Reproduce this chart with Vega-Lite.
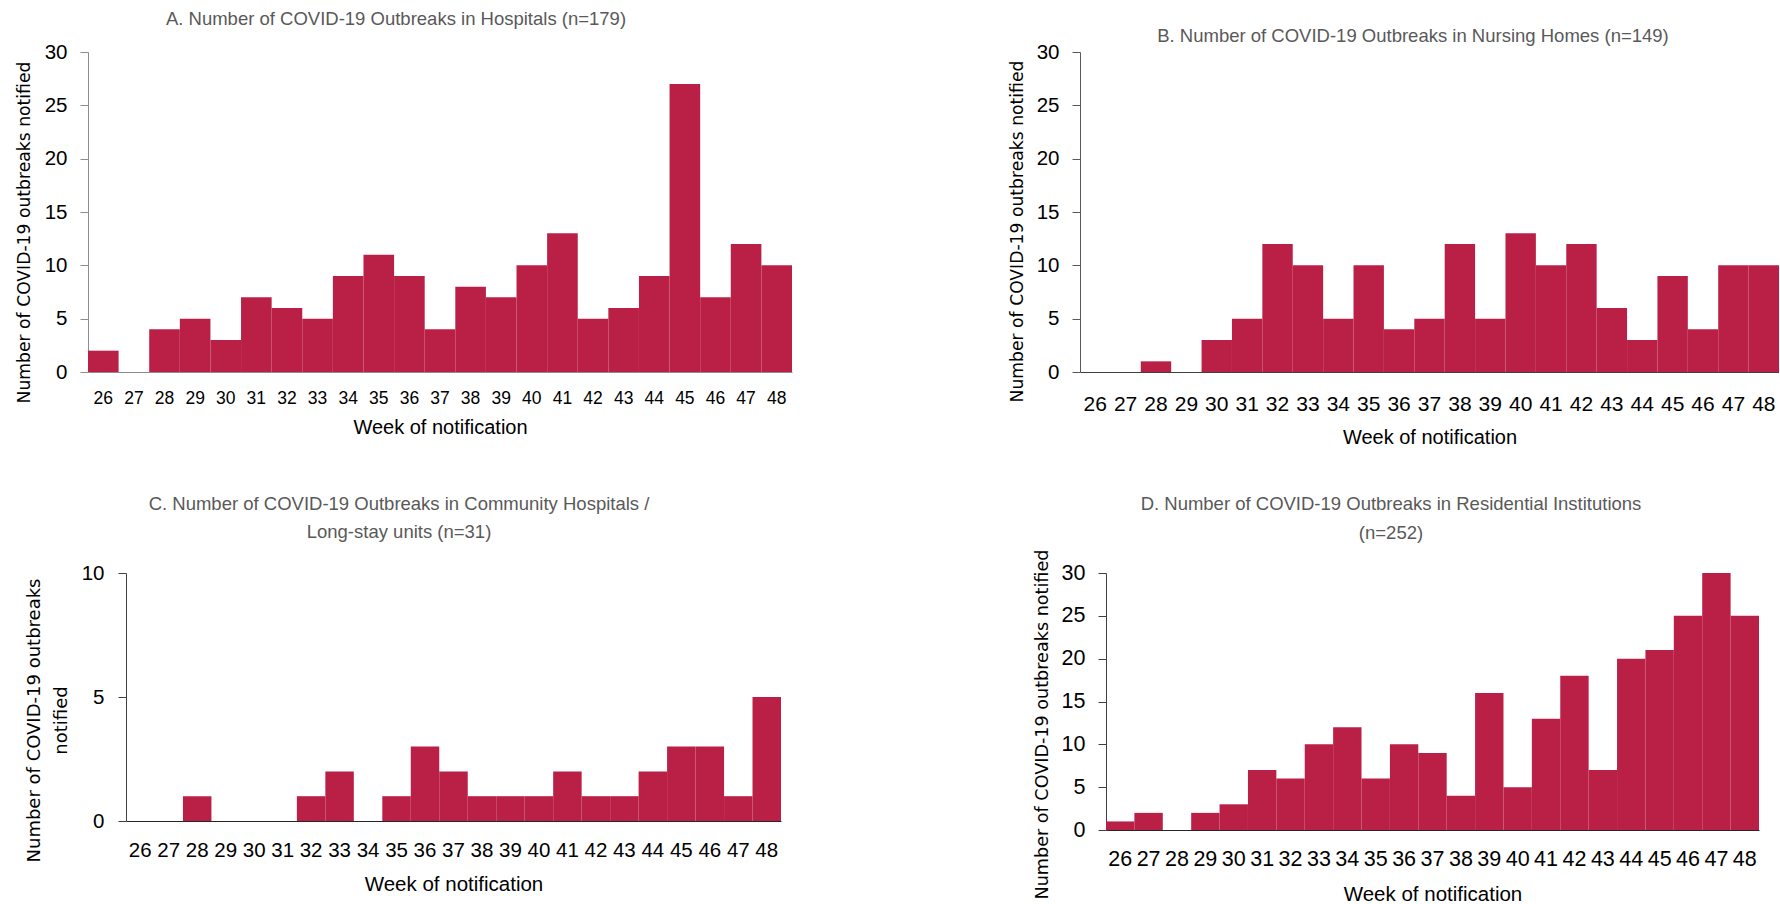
{
  "$schema": "https://vega.github.io/schema/vega-lite/v6.json",
  "background": "white",
  "padding": {"left": 14, "top": 9, "right": 0, "bottom": 0},
  "config": {
    "view": {"stroke": null},
    "font": "Liberation Sans",
    "axis": {"grid": false, "labelColor": "#000000", "titleColor": "#000000", "titleFontWeight": "normal", "labelFont": "Liberation Sans", "labelOverlap": false, "labelBound": false, "labelFlush": false},
    "title": {"font": "Liberation Sans", "fontSize": 18.5, "fontWeight": "normal", "color": "#595959", "anchor": "middle", "frame": "group", "baseline": "middle", "lineHeight": 28.6}
  },
  "datasets": {
    "A": [
      {"week": 26, "n": 2}, {"week": 27, "n": 0}, {"week": 28, "n": 4}, {"week": 29, "n": 5}, {"week": 30, "n": 3}, {"week": 31, "n": 7}, {"week": 32, "n": 6}, {"week": 33, "n": 5}, {"week": 34, "n": 9}, {"week": 35, "n": 11}, {"week": 36, "n": 9}, {"week": 37, "n": 4}, {"week": 38, "n": 8}, {"week": 39, "n": 7}, {"week": 40, "n": 10}, {"week": 41, "n": 13}, {"week": 42, "n": 5}, {"week": 43, "n": 6}, {"week": 44, "n": 9}, {"week": 45, "n": 27}, {"week": 46, "n": 7}, {"week": 47, "n": 12}, {"week": 48, "n": 10}
    ],
    "B": [
      {"week": 26, "n": 0}, {"week": 27, "n": 0}, {"week": 28, "n": 1}, {"week": 29, "n": 0}, {"week": 30, "n": 3}, {"week": 31, "n": 5}, {"week": 32, "n": 12}, {"week": 33, "n": 10}, {"week": 34, "n": 5}, {"week": 35, "n": 10}, {"week": 36, "n": 4}, {"week": 37, "n": 5}, {"week": 38, "n": 12}, {"week": 39, "n": 5}, {"week": 40, "n": 13}, {"week": 41, "n": 10}, {"week": 42, "n": 12}, {"week": 43, "n": 6}, {"week": 44, "n": 3}, {"week": 45, "n": 9}, {"week": 46, "n": 4}, {"week": 47, "n": 10}, {"week": 48, "n": 10}
    ],
    "C": [
      {"week": 26, "n": 0}, {"week": 27, "n": 0}, {"week": 28, "n": 1}, {"week": 29, "n": 0}, {"week": 30, "n": 0}, {"week": 31, "n": 0}, {"week": 32, "n": 1}, {"week": 33, "n": 2}, {"week": 34, "n": 0}, {"week": 35, "n": 1}, {"week": 36, "n": 3}, {"week": 37, "n": 2}, {"week": 38, "n": 1}, {"week": 39, "n": 1}, {"week": 40, "n": 1}, {"week": 41, "n": 2}, {"week": 42, "n": 1}, {"week": 43, "n": 1}, {"week": 44, "n": 2}, {"week": 45, "n": 3}, {"week": 46, "n": 3}, {"week": 47, "n": 1}, {"week": 48, "n": 5}
    ],
    "D": [
      {"week": 26, "n": 1}, {"week": 27, "n": 2}, {"week": 28, "n": 0}, {"week": 29, "n": 2}, {"week": 30, "n": 3}, {"week": 31, "n": 7}, {"week": 32, "n": 6}, {"week": 33, "n": 10}, {"week": 34, "n": 12}, {"week": 35, "n": 6}, {"week": 36, "n": 10}, {"week": 37, "n": 9}, {"week": 38, "n": 4}, {"week": 39, "n": 16}, {"week": 40, "n": 5}, {"week": 41, "n": 13}, {"week": 42, "n": 18}, {"week": 43, "n": 7}, {"week": 44, "n": 20}, {"week": 45, "n": 21}, {"week": 46, "n": 25}, {"week": 47, "n": 30}, {"week": 48, "n": 25}
    ],
    "spacer": [{"s": 0}]
  },
  "bounds": "flush",
  "spacing": 521,
  "vconcat": [
    {
      "bounds": "flush",
      "spacing": 288,
      "hconcat": [
        {
          "width": 704, "height": 320,
          "data": {"name": "A"},
          "title": {"text": "A. Number of COVID-19 Outbreaks in Hospitals (n=179)", "offset": 14, "dx": -44},
          "mark": {"type": "bar", "color": "#BA2046"},
          "encoding": {
            "x": {"field": "week", "type": "ordinal", "scale": {"paddingInner": 0, "paddingOuter": 0},
              "axis": {"title": "Week of notification", "labelAngle": 0, "ticks": false, "tickSize": 0, "labelPadding": 17.5, "labelFontSize": 17.5, "titleFontSize": 20, "titleFont": "Liberation Sans", "titleY": 45, "domainColor": "#8C8C8C"}},
            "y": {"field": "n", "type": "quantitative", "scale": {"domain": [0, 30]},
              "axis": {"values": [0, 5, 10, 15, 20, 25, 30], "tickSize": 8, "labelPadding": 13, "labelFontSize": 20.5, "domainColor": "#8C8C8C", "tickColor": "#8C8C8C",
                "title": "Number of COVID-19 outbreaks notified", "titleFont": "DejaVu Sans", "titleFontSize": 17.2, "titleAngle": -90, "titleBaseline": "middle", "titleAlign": "center", "titleX": -64, "titleY": 180}}
          }
        },
        {
          "width": 699, "height": 320,
          "data": {"name": "B"},
          "title": {"text": "B. Number of COVID-19 Outbreaks in Nursing Homes (n=149)", "offset": -3, "dx": -16.5},
          "mark": {"type": "bar", "color": "#BA2046"},
          "encoding": {
            "x": {"field": "week", "type": "ordinal", "scale": {"paddingInner": 0, "paddingOuter": 0},
              "axis": {"title": "Week of notification", "labelAngle": 0, "ticks": false, "tickSize": 0, "labelPadding": 21, "labelFontSize": 21, "titleFontSize": 20, "titleFont": "Liberation Sans", "titleY": 55, "domainColor": "#404040"}},
            "y": {"field": "n", "type": "quantitative", "scale": {"domain": [0, 30]},
              "axis": {"values": [0, 5, 10, 15, 20, 25, 30], "tickSize": 8, "labelPadding": 13, "labelFontSize": 20.5, "domainColor": "#595959", "tickColor": "#595959",
                "title": "Number of COVID-19 outbreaks notified", "titleFont": "DejaVu Sans", "titleFontSize": 17.2, "titleAngle": -90, "titleBaseline": "middle", "titleAlign": "center", "titleX": -63, "titleY": 179}}
          }
        }
      ]
    },
    {
      "bounds": "flush",
      "spacing": 37,
      "hconcat": [
        {
          "width": 1, "height": 1,
          "data": {"name": "spacer"},
          "mark": {"type": "point", "opacity": 0},
          "encoding": {}
        },
        {
          "bounds": "flush",
          "spacing": 325,
          "hconcat": [
            {
              "width": 655, "height": 248,
              "data": {"name": "C"},
              "title": {"text": ["C. Number of COVID-19 Outbreaks in Community Hospitals /", "Long-stay units (n=31)"], "offset": 21, "dx": -54.5},
              "mark": {"type": "bar", "color": "#BA2046"},
              "encoding": {
                "x": {"field": "week", "type": "ordinal", "scale": {"paddingInner": 0, "paddingOuter": 0},
                  "axis": {"title": "Week of notification", "labelAngle": 0, "ticks": false, "tickSize": 0, "labelPadding": 19, "labelFontSize": 20.5, "titleFontSize": 20.5, "titleFont": "Liberation Sans", "titleY": 53, "domainColor": "#262626"}},
                "y": {"field": "n", "type": "quantitative", "scale": {"domain": [0, 10]},
                  "axis": {"values": [0, 5, 10], "tickSize": 8, "labelPadding": 14, "labelFontSize": 20.5, "domainColor": "#404040", "tickColor": "#404040",
                    "title": ["Number of COVID-19 outbreaks", "notified"], "titleFont": "DejaVu Sans", "titleFontSize": 18, "titleLineHeight": 27, "titleAngle": -90, "titleBaseline": "middle", "titleAlign": "center", "titleX": -92, "titleY": 147}}
              }
            },
            {
              "width": 653, "height": 257,
              "data": {"name": "D"},
              "title": {"text": ["D. Number of COVID-19 Outbreaks in Residential Institutions", "(n=252)"], "offset": 7, "dx": -41.5},
              "mark": {"type": "bar", "color": "#BA2046"},
              "encoding": {
                "x": {"field": "week", "type": "ordinal", "scale": {"paddingInner": 0, "paddingOuter": 0},
                  "axis": {"title": "Week of notification", "labelAngle": 0, "ticks": false, "tickSize": 0, "labelPadding": 18, "labelFontSize": 21.5, "titleFontSize": 20.5, "titleFont": "Liberation Sans", "titleY": 54, "domainColor": "#262626"}},
                "y": {"field": "n", "type": "quantitative", "scale": {"domain": [0, 30]},
                  "axis": {"values": [0, 5, 10, 15, 20, 25, 30], "tickSize": 8, "labelPadding": 13, "labelFontSize": 21.5, "domainColor": "#404040", "tickColor": "#404040",
                    "title": "Number of COVID-19 outbreaks notified", "titleFont": "DejaVu Sans", "titleFontSize": 17.6, "titleAngle": -90, "titleBaseline": "middle", "titleAlign": "center", "titleX": -64, "titleY": 151}}
              }
            }
          ]
        }
      ]
    }
  ]
}
